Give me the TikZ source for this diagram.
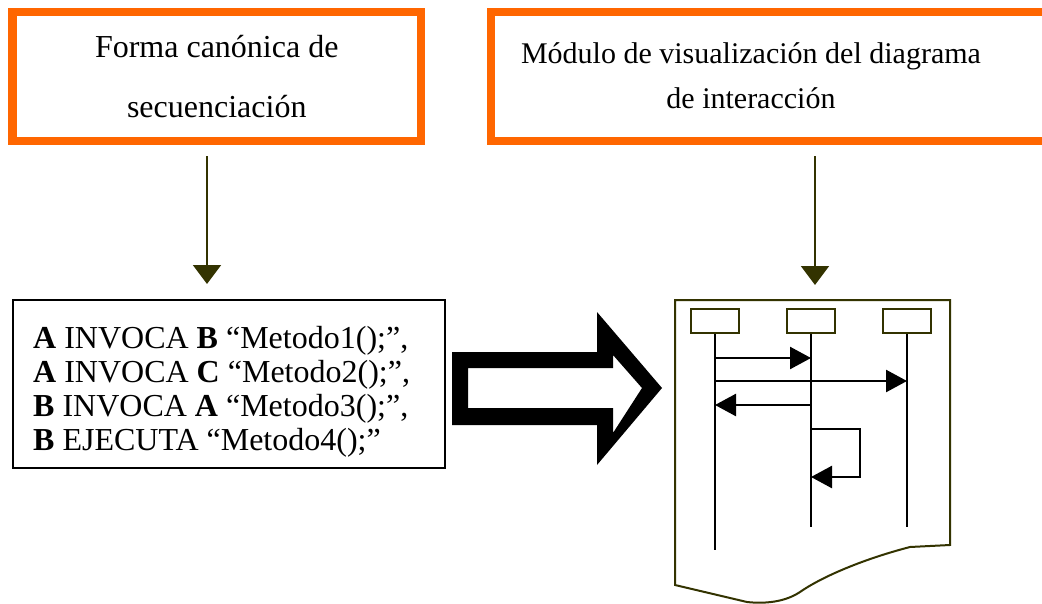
\documentclass[tikz,border=0pt]{standalone}
\usepackage{fontspec}
\setmainfont{Liberation Serif}
\usepackage{tikz}
\usetikzlibrary{arrows.meta}
\definecolor{naranja}{RGB}{255,102,0}
\definecolor{oliva}{RGB}{51,51,0}

\begin{document}
\begin{tikzpicture}[x=1pt,y=-1pt,node distance=96pt,
		flecha/.style={-{Triangle[length=19pt,width=28pt]},draw=oliva,fill=oliva,line width=2pt},
		mensaje/.style={-{Triangle[length=21pt,width=22pt]},line width=2.5pt}]
		\tikzstyle{marco}=[draw=naranja,line width=8.5pt,rectangle,minimum height=129pt]
		\tikzstyle{titulo}=[align=center,inner sep=0pt]
		\tikzstyle{caja}=[draw=oliva,line width=2pt,rectangle,minimum width=48pt,minimum height=24pt,inner sep=0pt]
		\tikzstyle{vida}=[line width=2.5pt]
		
		\useasboundingbox (0,0) rectangle (1042,603);
		
		% cajas de arriba
		\node[marco,minimum width=408.5pt] (canon) at (216.75,76.5) {};
		\node[titulo,font=\fontsize{32}{60}\selectfont] (canontxt) at (216.75,76.5) {Forma canónica de\\secuenciación};
		\node[marco,minimum width=569pt] (modulo) at (775.5,76.5) {};
		\node[titulo,font=\fontsize{30}{45}\selectfont] (modulotxt) at (751,75.25) {Módulo de visualización del diagrama\\de interacción};
		
		% forma canonica
		\node[draw,line width=2pt,rectangle,minimum width=432pt,minimum height=168pt] (codigo) at (229,384) {};
		\node[anchor=north west,align=left,inner sep=0pt,font=\fontsize{32}{34}\selectfont] (codtxt) at (33,326)
		{\textbf{A} INVOCA \textbf{B} “Metodo1();”,\\
			\textbf{A} INVOCA \textbf{C} “Metodo2();”,\\
			\textbf{B} INVOCA \textbf{A} “Metodo3();”,\\
			\textbf{B} EJECUTA “Metodo4();”};
		
		% hoja del diagrama
		\draw[draw=oliva,line width=2pt] (675,300) -- (950,300) -- (950,545) -- (910,547)
		.. controls (860,560) and (820,578) .. (800,592)
		.. controls (785,602) and (765,604) .. (747,602) -- (675,585) -- cycle;
		\coordinate (hoja) at (815,300);
		\coordinate (canonpie) at (canon.south -| 207,0);
		\coordinate (modulopie) at (modulo.south -| hoja);
		
		\draw[flecha] ([yshift=-11pt]canonpie) -- ([yshift=15pt]canonpie |- codigo.north);
		\draw[flecha] ([yshift=-11pt]modulopie) -- ([yshift=15pt]hoja);
		
		% flecha grande
		\fill[even odd rule] (452,352) -- (597,352) -- (597,312) -- (662,388) -- (597,465) -- (597,425) -- (452,425) -- cycle
		(468,368) -- (613,368) -- (613,355) -- (642,388) -- (613,433) -- (613,408) -- (468,408) -- cycle;
		
		% objetos y lineas de vida
		\node[caja] (la) at (715,321) {};
		\node[caja] (lb) [right of=la] {};
		\node[caja] (lc) [right of=lb] {};
		
		\draw[vida] (la.south) -- (la |- 0,550);
		\draw[vida] (lb.south) -- (lb |- 0,527);
		\draw[vida] (lc.south) -- (lc |- 0,527);
		
		\draw[mensaje] (la |- 0,358) -- (lb |- 0,358);
		\draw[mensaje] (la |- 0,381) -- (lc |- 0,381);
		\draw[mensaje] (lb |- 0,405) -- (la |- 0,405);
		\draw[mensaje] (lb |- 0,429) -- (860,429) -- (860,477) -- (lb |- 0,477);
		
\end{tikzpicture}
\end{document}
